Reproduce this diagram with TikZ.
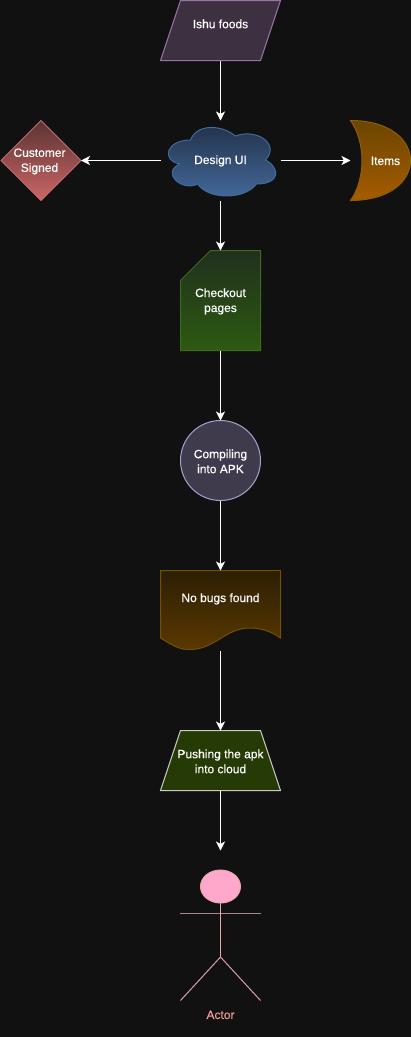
\documentclass[tikz,border=0pt]{standalone}
\usepackage{fontspec}
\setmainfont{Liberation Sans}
\newfontfamily\lblfont[FakeBold=0.45]{Liberation Sans}
\usetikzlibrary{arrows.meta}
\definecolor{bg}{HTML}{111111}
\definecolor{foodsline}{HTML}{9673A6}
\definecolor{foodsfill}{HTML}{3D3040}
\definecolor{cloudline}{HTML}{3F6A9C}
\definecolor{cloudtop}{HTML}{22324A}
\definecolor{cloudbot}{HTML}{456A9C}
\definecolor{diaLine}{HTML}{C56B6B}
\definecolor{diaTop}{HTML}{5C3333}
\definecolor{diaBot}{HTML}{CC6666}
\definecolor{moonLine}{HTML}{8C5F00}
\definecolor{moonTop}{HTML}{6B4500}
\definecolor{moonBot}{HTML}{A65C00}
\definecolor{cardLine}{HTML}{3A6B1E}
\definecolor{cardTop}{HTML}{20301E}
\definecolor{cardBot}{HTML}{2D5A10}
\definecolor{circLine}{HTML}{A6A2CC}
\definecolor{circFill}{HTML}{3F3B4D}
\definecolor{docLine}{HTML}{735000}
\definecolor{docTop}{HTML}{2C1F04}
\definecolor{docBot}{HTML}{5A3800}
\definecolor{trapLine}{HTML}{C8CCC4}
\definecolor{trapFill}{HTML}{253A05}
\definecolor{actorFill}{HTML}{FFA8CC}
\definecolor{actorLine}{HTML}{E8A8A8}
\definecolor{actorArm}{HTML}{A88888}
\definecolor{actorText}{HTML}{F09A9A}
\tikzset{
  frame/.style 2 args={inner sep=0pt,outer sep=0pt,minimum width=#1,minimum height=#2},
  lbl/.style={text=white,align=center,inner sep=0pt,yshift=-0.4pt,font=\lblfont\fontsize{12}{15}\selectfont},
  conn/.style={draw=white,line width=1.1pt,-{Stealth[length=9pt,width=9pt,inset=2.4pt]}},
  shp/.style={line width=1pt,miter limit=10},
  actorpart/.style={draw=actorLine,line width=1pt}
}
\begin{document}
\begin{tikzpicture}[x=1pt,y=-1pt]
\useasboundingbox[fill=bg] (0,0) rectangle (411,1037);
% shapes
\path[shp,draw=foodsline,fill=foodsfill] (180.5,0.5) -- (280.5,0.5) -- (260.5,60.5) -- (160.5,60.5) -- cycle;
\path[shp,draw=cloudline,top color=cloudtop,bottom color=cloudbot]
  (190.5,140) .. controls (166.5,140) and (160.5,160) .. (179.7,164)
  .. controls (160.5,172.8) and (182.1,192) .. (197.7,184)
  .. controls (208.5,200) and (244.5,200) .. (256.5,184)
  .. controls (280.5,184) and (280.5,168) .. (265.5,160)
  .. controls (280.5,144) and (256.5,128) .. (235.5,136)
  .. controls (220.5,124) and (196.5,124) .. (190.5,140) -- cycle;
\path[shp,draw=diaLine,top color=diaTop,bottom color=diaBot] (41,120.5) -- (81,160.5) -- (41,200.5) -- (1,160.5) -- cycle;
\path[shp,draw=moonLine,top color=moonTop,bottom color=moonBot]
  (350.5,120.5) .. controls (390,120.5) and (410.5,140) .. (410.5,160.5)
  .. controls (410.5,181) and (390,200.5) .. (350.5,200.5)
  .. controls (358,190) and (362,175) .. (362,160.5)
  .. controls (362,146) and (358,131) .. (350.5,120.5) -- cycle;
\path[shp,draw=cardLine,top color=cardTop,bottom color=cardBot] (210.5,250.5) -- (260.5,250.5) -- (260.5,350.5) -- (180.5,350.5) -- (180.5,280.5) -- cycle;
\path[shp,draw=circLine,fill=circFill] (220.5,460.5) circle [radius=40];
\path[shp,draw=docLine,top color=docTop,bottom color=docBot]
  (160.5,570.5) -- (280.5,570.5) -- (280.5,638)
  .. controls (272,632) and (262,628) .. (250,628)
  .. controls (225,628) and (215,649.5) .. (190,649.5)
  .. controls (180,649.5) and (175,647) .. (160.5,638) -- cycle;
\path[shp,draw=trapLine,fill=trapFill] (180.5,730.5) -- (260.5,730.5) -- (280.5,790.5) -- (160.5,790.5) -- cycle;
% actor
\path[actorpart,draw=actorArm,line width=1.5pt] (180,913.7) -- (260.5,913.7);
\path[actorpart] (220.5,903) -- (220.5,957);
\path[actorpart,draw=actorFill!60!actorArm] (180.5,1000.5) -- (220.5,957) -- (260.5,1000.5);
\path[actorpart,fill=actorFill] (220.5,886.5) ellipse [x radius=20,y radius=16.5];
% frames for connectors
\node[frame={120pt}{60pt}] (foods) at (220.5,30.5) {};
\node[frame={120pt}{80pt}] (design) at (220.5,160.5) {};
\node[frame={80pt}{80pt}] (signed) at (41,160.5) {};
\node[frame={60pt}{80pt}] (items) at (380.5,160.5) {};
\node[frame={80pt}{100pt}] (checkout) at (220.5,300.5) {};
\node[frame={80pt}{80pt}] (compile) at (220.5,460.5) {};
\node[frame={120pt}{80pt}] (nobugs) at (220.5,610.5) {};
\node[frame={120pt}{60pt}] (push) at (220.5,760.5) {};
\node[frame={80pt}{150pt}] (actor) at (220.5,925.5) {};
% labels
\node[lbl] (t1) at (220.5,23.5) {Ishu foods};
\node[lbl] (t2) at (220.5,160.5) {Design UI};
\node[lbl] (t3) at (39.5,161) {Customer\\Signed};
\node[lbl] (t4) at (385.5,160.5) {Items};
\node[lbl] (t5) at (220.5,301) {Checkout\\pages};
\node[lbl] (t6) at (220.5,461) {Compiling\\into APK};
\node[lbl] (t7) at (220.5,598.5) {No bugs found};
\node[lbl] (t8) at (220.5,761) {Pushing the apk\\into cloud};
\node[lbl,text=actorText] (t9) at (220.5,1014.5) {Actor};
% connectors
\draw[conn] (foods.south) -- (design.north);
\draw[conn] (design.west) -- (signed.east);
\draw[conn] (design.east) -- (items.west);
\draw[conn] (design.south) -- (checkout.north);
\draw[conn] (checkout.south) -- (compile.north);
\draw[conn] (compile.south) -- (nobugs.north);
\draw[conn] (nobugs.south) -- (push.north);
\draw[conn] (push.south) -- (actor.north);
\end{tikzpicture}
\end{document}
